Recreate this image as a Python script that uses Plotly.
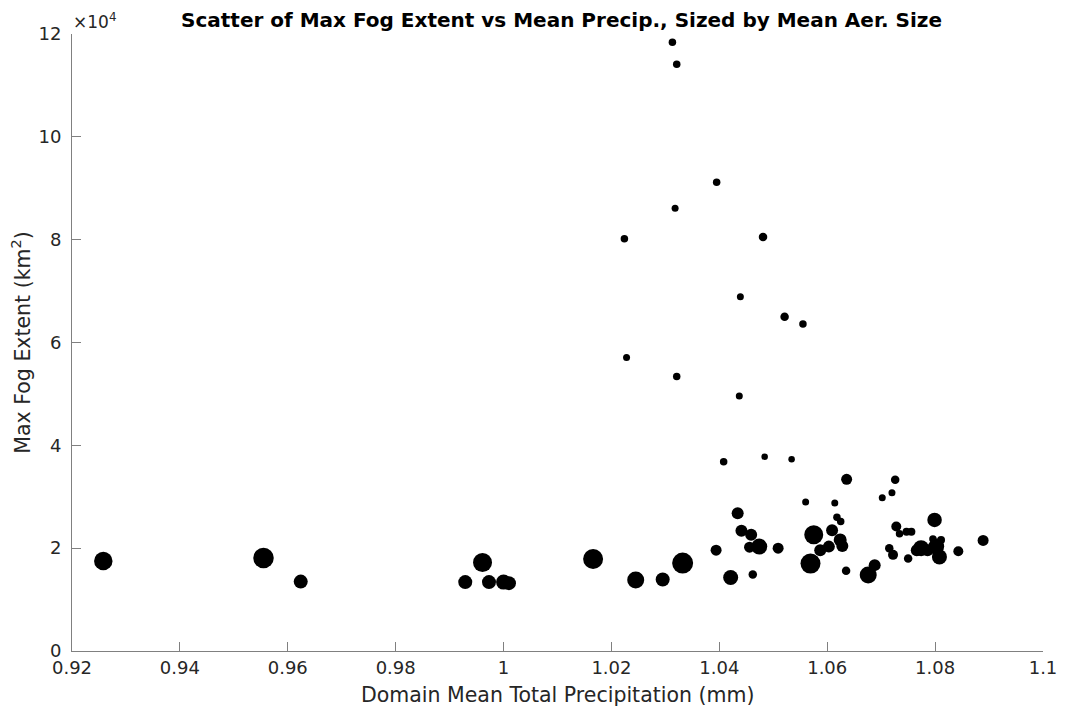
import plotly.graph_objects as go

# Domain mean total precipitation (mm)
precip = [0.9258, 0.9555, 0.9624, 0.9929, 0.9961, 0.9973, 1.0000, 1.0010, 1.0166, 1.0245,
          1.0295, 1.0332, 1.0313, 1.0321, 1.0395, 1.0318, 1.0224, 1.0481, 1.0439, 1.0521,
          1.0555, 1.0228, 1.0321, 1.0437, 1.0408, 1.0484, 1.0534, 1.0636, 1.0726, 1.0720,
          1.0702, 1.0560, 1.0614, 1.0434, 1.0799, 1.0618, 1.0625, 1.0441, 1.0459, 1.0575,
          1.0609, 1.0728, 1.0734, 1.0747, 1.0756, 1.0474, 1.0456, 1.0509, 1.0394, 1.0624,
          1.0628, 1.0587, 1.0603, 1.0569, 1.0635, 1.0676, 1.0688, 1.0421, 1.0462, 1.0715,
          1.0722, 1.0750, 1.0774, 1.0766, 1.0802, 1.0808, 1.0796, 1.0811, 1.0843, 1.0889,
          1.0786]

# Max fog extent (x 1e4 km^2)
fog_e4 = [1.75, 1.81, 1.35, 1.34, 1.72, 1.34, 1.34, 1.32, 1.79, 1.38,
          1.39, 1.71, 11.84, 11.41, 9.115, 8.61, 8.02, 8.05, 6.89, 6.50,
          6.36, 5.71, 5.34, 4.96, 3.68, 3.78, 3.73, 3.34, 3.33, 3.08,
          2.98, 2.90, 2.88, 2.68, 2.55, 2.60, 2.52, 2.34, 2.26, 2.26,
          2.35, 2.42, 2.28, 2.32, 2.32, 2.03, 2.02, 2.00, 1.96, 2.16,
          2.04, 1.96, 2.03, 1.70, 1.56, 1.48, 1.67, 1.43, 1.49, 2.00,
          1.87, 1.80, 2.00, 1.96, 2.03, 1.83, 2.18, 2.16, 1.94, 2.15,
          1.96]

# Mean aerosol size (relative units)
aer_size = [18.5, 20.5, 14, 14, 19, 14, 15, 14, 20, 17,
            14, 21, 7.5, 7.5, 7.5, 7, 7.5, 8.5, 7, 8.5,
            7.5, 7, 7.5, 7, 7.5, 6.5, 6.5, 11, 8.5, 7,
            7, 7, 7, 12, 14.5, 7.5, 7.5, 12, 12, 19,
            12, 10, 7.5, 8, 8, 16, 11, 11, 11, 13,
            12, 12, 12, 20, 8.5, 17, 12, 15, 8.5, 8.5,
            10, 8.5, 16, 12, 16, 15, 7.5, 8, 10, 11,
            12]

y_ticks = [0, 2, 4, 6, 8, 10, 12]
x_ticks = [0.92, 0.94, 0.96, 0.98, 1.0, 1.02, 1.04, 1.06, 1.08, 1.1]
x_tick_labels = ["0.92", "0.94", "0.96", "0.98", "1", "1.02", "1.04", "1.06", "1.08", "1.1"]

fog = [v * 1e4 for v in fog_e4]

FONT = "DejaVu Sans"
TXT = "#262626"
AX = "#808080"

# the page body has an 8px margin, so the figure is offset by (8, 8)
W, H = 1061, 699
ML, MR, MT, MB = 64, 18, 26, 56
PLOT_H = H - MT - MB
PLOT_W = W - ML - MR

fig = go.Figure(go.Scatter(
    x=precip, y=fog, mode="markers",
    marker=dict(color="black", size=aer_size, opacity=1, line=dict(width=0)),
    hoverinfo="x+y",
))

fig.update_layout(
    width=W, height=H,
    margin=dict(l=ML, r=MR, t=MT, b=MB),
    plot_bgcolor="white", paper_bgcolor="white",
    showlegend=False,
    font=dict(family=FONT, color=TXT),
    title=dict(
        text="<b>Scatter of Max Fog Extent vs Mean Precip., Sized by Mean Aer. Size</b>",
        x=(ML + PLOT_W / 2) / W, xanchor="center", y=1 - 12 / H, yanchor="middle",
        font=dict(family=FONT, size=20, color="black"),
    ),
    xaxis=dict(
        range=[0.92, 1.1], tickvals=x_ticks, ticktext=x_tick_labels,
        showgrid=False, zeroline=False, showline=True, linecolor=AX, linewidth=1,
        ticks="inside", ticklen=9, tickcolor=AX, tickwidth=1,
        ticklabelstandoff=0,
        tickfont=dict(family=FONT, size=18, color=TXT),
        mirror=False,
    ),
    yaxis=dict(
        range=[0, 12e4], tickvals=[t * 1e4 for t in y_ticks], ticktext=[str(t) for t in y_ticks],
        showgrid=False, zeroline=False, showline=True, linecolor=AX, linewidth=1,
        ticks="inside", ticklen=9, tickcolor=AX, tickwidth=1,
        ticklabelstandoff=6,
        tickfont=dict(family=FONT, size=18, color=TXT),
        title=dict(text="Max Fog Extent (km<sup>2</sup>)",
                   font=dict(family=FONT, size=20.5, color=TXT), standoff=4),
        mirror=False,
    ),
    annotations=[
        dict(
            text="×10<sup>4</sup>", xref="paper", yref="paper", x=0, y=1,
            xanchor="left", yanchor="bottom", showarrow=False,
            font=dict(family=FONT, size=17, color=TXT), xshift=-1, yshift=0,
        ),
        dict(
            text="Domain Mean Total Precipitation (mm)", xref="paper", yref="paper",
            x=0.5, y=-44 / PLOT_H, xanchor="center", yanchor="middle",
            showarrow=False, font=dict(family=FONT, size=20.5, color=TXT),
        ),
    ],
)

fig.write_html("out.html")
